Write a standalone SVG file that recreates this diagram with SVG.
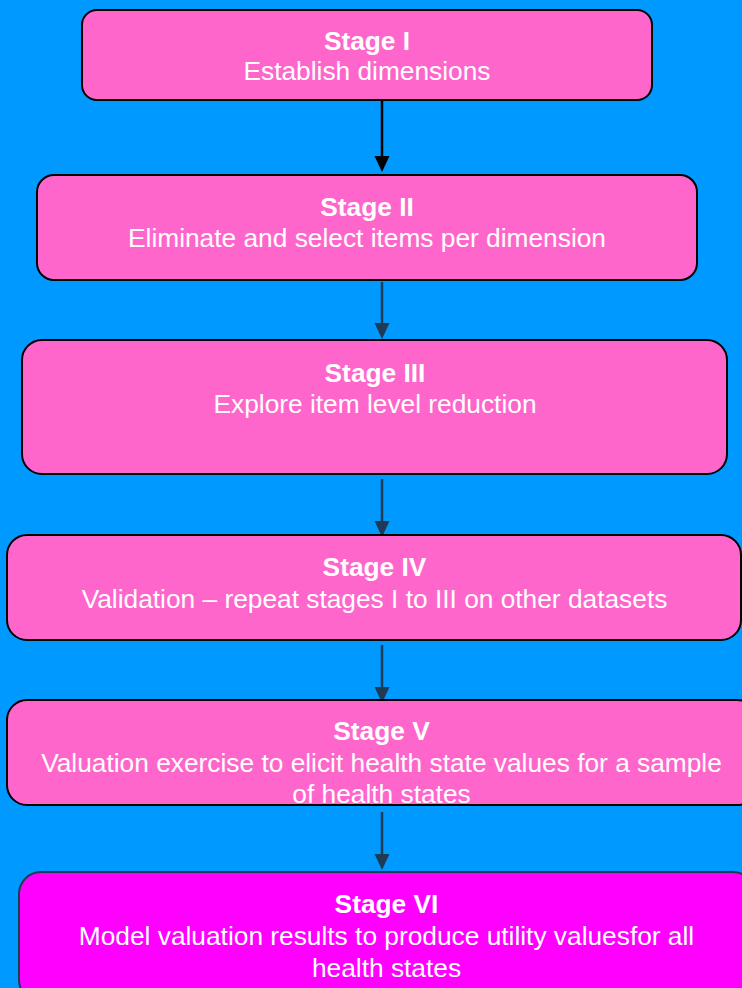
<svg xmlns="http://www.w3.org/2000/svg" width="742" height="988" viewBox="0 0 742 988">
<defs>
<style>
.box{fill:#FF66CC;stroke:#000;stroke-width:2}
.box6{fill:#FF00FF;stroke:#1F3A55;stroke-width:2}
text{font-family:'Liberation Sans',sans-serif;font-size:26.3px;fill:#fff;text-anchor:middle}
.t{font-weight:bold}
.c{stroke:#1F3A55;stroke-width:2.5;fill:none}
.c1{stroke:#000;stroke-width:2.5;fill:none}
</style>
</defs>
<rect width="742" height="988" fill="#0099FF"/>
<g id="connectors">
<line class="c1" x1="382" y1="100" x2="382" y2="157" />
<path d="M374.5,156 L389.5,156 L382,172 Z" fill="#000"/>
<line class="c" x1="382" y1="282" x2="382" y2="325" />
<path d="M374.5,323 L389.5,323 L382,339 Z" fill="#1F3A55"/>
<line class="c" x1="382" y1="479" x2="382" y2="523" />
<path d="M374.5,521 L389.5,521 L382,537 Z" fill="#1F3A55"/>
<line class="c" x1="382" y1="645" x2="382" y2="689" />
<path d="M374.5,687 L389.5,687 L382,703 Z" fill="#1F3A55"/>
<line class="c" x1="382" y1="812" x2="382" y2="856" />
<path d="M374.5,854 L389.5,854 L382,870 Z" fill="#1F3A55"/>
</g>
<g id="stage1">
<rect class="box" x="82" y="10" width="570" height="90" rx="15"/>
<text class="t" x="367" y="50">Stage I</text>
<text x="367" y="80">Establish dimensions</text>
</g>
<g id="stage2">
<rect class="box" x="37" y="175" width="660" height="105" rx="17"/>
<text class="t" x="367" y="216">Stage II</text>
<text x="367" y="247">Eliminate and select items per dimension</text>
</g>
<g id="stage3">
<rect class="box" x="22" y="340" width="705" height="134" rx="20"/>
<text class="t" x="375" y="382">Stage III</text>
<text x="375" y="413">Explore item level reduction</text>
</g>
<g id="stage4">
<rect class="box" x="7" y="535" width="734" height="105" rx="20"/>
<text class="t" x="374.5" y="576">Stage IV</text>
<text x="374.5" y="608">Validation – repeat stages I to III on other datasets</text>
</g>
<g id="stage5">
<rect class="box" x="7" y="700" width="750" height="105" rx="20"/>
<text class="t" x="381.5" y="740">Stage V</text>
<text x="381.5" y="772">Valuation exercise to elicit health state values for a sample</text>
<text x="381.5" y="803">of health states</text>
</g>
<g id="stage6">
<rect class="box6" x="19" y="872" width="736" height="130" rx="22"/>
<text class="t" x="386.5" y="913">Stage VI</text>
<text x="386.5" y="945">Model valuation results to produce utility valuesfor all</text>
<text x="386.5" y="977">health states</text>
</g>
</svg>
